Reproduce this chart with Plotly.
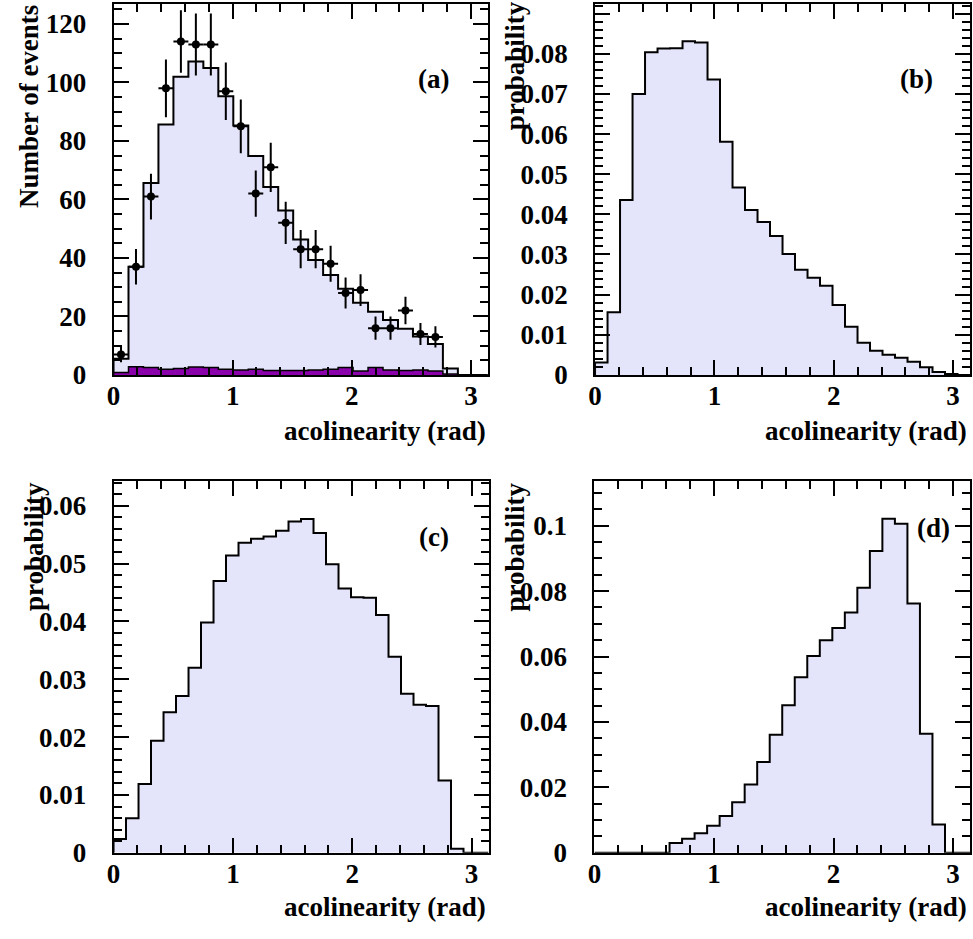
import numpy as np
import plotly.graph_objects as go

# ---------------- data ----------------
NBINS_A = 25
NBINS_BCD = 30

mc_a = [5.5, 37, 65.6, 85.6, 102, 107.2, 105, 95.3, 85.3, 74.9, 64.3, 56.2, 46.3,
        39.3, 34.2, 29.5, 24.7, 21.6, 18.8, 15.8, 13.1, 10.6, 2.2, 0, 0]
bkg_a = [0.8, 2.8, 2.5, 1.9, 2.2, 2.7, 2.5, 1.9, 1.7, 1.9, 1.5, 1.5, 1.5, 1.7, 1.9,
         2.5, 1.3, 2.5, 1.7, 1.5, 1.7, 1.3, 0.3, 0, 0]
data_a = [7, 37, 61, 98, 114, 113, 113, 97, 85, 62, 71, 52, 43, 43, 38, 28, 29, 16,
          16, 22, 14, 13]
data_err_a = [2.65, 6.08, 7.81, 9.90, 10.68, 10.63, 10.63, 9.85, 9.22, 7.87, 8.43,
              7.21, 6.56, 6.56, 6.16, 5.29, 5.39, 4.0, 4.0, 4.69, 3.74, 3.61]

prob_b = [0.0031, 0.0156, 0.0436, 0.0700, 0.0804, 0.0813, 0.0814, 0.0831, 0.0828,
          0.0736, 0.0581, 0.0467, 0.0411, 0.0381, 0.0346, 0.0301, 0.0262, 0.0242,
          0.0222, 0.0174, 0.0120, 0.0080, 0.0060, 0.0050, 0.0043, 0.0033, 0.0019,
          0.0007, 0.0002, 0]
prob_c = [0.0024, 0.0060, 0.0119, 0.0194, 0.0243, 0.0271, 0.0320, 0.0398, 0.0470,
          0.0514, 0.0536, 0.0543, 0.0547, 0.0557, 0.0573, 0.0577, 0.0553, 0.0499,
          0.0457, 0.0442, 0.0441, 0.0411, 0.0339, 0.0275, 0.0256, 0.0254, 0.0125,
          0.0007, 0, 0]
prob_d = [0, 0, 0, 0, 0, 0, 0.0030, 0.0043, 0.0060, 0.0083, 0.0113, 0.0155, 0.0209,
          0.0278, 0.0361, 0.0451, 0.0537, 0.0602, 0.0650, 0.0687, 0.0735, 0.0810,
          0.0923, 0.1021, 0.1006, 0.0762, 0.0364, 0.0087, 0, 0]

panel_labels = ["(a)", "(b)", "(c)", "(d)"]
x_title = "acolinearity (rad)"
y_titles = ["Number of events", "probability", "probability", "probability"]

# ---------------- style ----------------
W, H = 973, 939
FONT = "Liberation Serif"
FS = 27
LAV = "#e4e4fa"
PURPLE = "#8a00aa"

fig = go.Figure()


def step_trace(edges, vals, xa, ya, fill, lw=2):
    x = np.concatenate([[edges[0]], edges])
    y = [0] + list(vals) + [0]
    return go.Scatter(x=x, y=y, mode="lines", line=dict(color="black", width=lw, shape="hv"),
                      fill="tozeroy", fillcolor=fill, xaxis=xa, yaxis=ya,
                      hoverinfo="skip", showlegend=False)


edges_a = np.linspace(0, np.pi, NBINS_A + 1)
edges_bcd = np.linspace(0, np.pi, NBINS_BCD + 1)
centers_a = 0.5 * (edges_a[:-1] + edges_a[1:])

# panel (a)
fig.add_trace(step_trace(edges_a, mc_a, "x", "y", LAV))
fig.add_trace(step_trace(edges_a, bkg_a, "x", "y", PURPLE, lw=1.5))
fig.add_trace(go.Scatter(
    x=centers_a[:len(data_a)], y=data_a, mode="markers",
    marker=dict(color="black", size=8),
    error_y=dict(type="data", array=data_err_a, visible=True, thickness=2, width=0, color="black"),
    error_x=dict(type="constant", value=np.pi / NBINS_A / 2, visible=True, thickness=2, width=0, color="black"),
    xaxis="x", yaxis="y", showlegend=False))
# panels (b),(c),(d)
fig.add_trace(step_trace(edges_bcd, prob_b, "x2", "y2", LAV))
fig.add_trace(step_trace(edges_bcd, prob_c, "x3", "y3", LAV))
fig.add_trace(step_trace(edges_bcd, prob_d, "x4", "y4", LAV))

# geometry (pixels)
panels = {
    # name: (left, right, top, bottom, ymax, ydtick, yminor)
    1: (107.3, 484.3, 4.5, 381.0, 126.7, 20, 5),
    2: (592.3, 970.0, 4.5, 381.0, 0.0923, 0.01, 0.002),
    3: (107.3, 485.0, 489.3, 866.7, 0.0642, 0.01, 0.002),
    4: (591.7, 970.0, 489.0, 866.7, 0.1136, 0.02, 0.005),
}

tickfont = dict(family=FONT, size=FS, color="black", weight="bold")
layout = dict(width=W, height=H, margin=dict(l=0, r=0, t=0, b=0), autosize=False,
              paper_bgcolor="white", plot_bgcolor="white", showlegend=False,
              font=dict(family=FONT, size=FS, color="black", weight="bold"))

for i, (l, r, t, b, ymax, dy, ymin) in panels.items():
    sx = "" if i == 1 else str(i)
    layout["xaxis" + sx] = dict(
        domain=[l / W, r / W], anchor="y" + sx, range=[0, np.pi],
        tickmode="linear", tick0=0, dtick=1, ticks="inside", ticklen=15, tickwidth=2,
        tickcolor="black", showline=True, linewidth=2, linecolor="black", mirror="ticks",
        showgrid=False, zeroline=False, tickfont=tickfont, ticklabelstandoff=-4,
        layer="above traces",
        minor=dict(dtick=0.2, tick0=0, ticks="inside", ticklen=8, tickwidth=2,
                   tickcolor="black", showgrid=False))
    layout["yaxis" + sx] = dict(
        domain=[1 - b / H, 1 - t / H], anchor="x" + sx, range=[0, ymax],
        tickmode="linear", tick0=0, dtick=dy, ticks="inside", ticklen=15, tickwidth=2,
        tickcolor="black", showline=True, linewidth=2, linecolor="black", mirror="ticks",
        showgrid=False, zeroline=False, tickfont=tickfont, ticklabelstandoff=20,
        layer="above traces",
        minor=dict(dtick=ymin, tick0=0, ticks="inside", ticklen=8, tickwidth=2,
                   tickcolor="black", showgrid=False))

fig.update_layout(**layout)

annots = []
# panel labels
label_pos = [(430, 80), (916, 80), (430, 546), (933, 537)]
for txt, (px, py) in zip(panel_labels, label_pos):
    annots.append(dict(text=txt, x=px / W, y=1 - py / H, xref="paper", yref="paper",
                       xanchor="center", yanchor="middle", showarrow=False,
                       font=dict(family=FONT, size=FS, color="black", weight="bold")))
# x titles
for (px, py) in [(484, 438), (969, 438), (484, 922), (969, 922)]:
    annots.append(dict(text=x_title, x=px / W, y=1 - py / H, xref="paper", yref="paper",
                       xanchor="right", yanchor="middle", showarrow=False,
                       font=dict(family=FONT, size=FS, color="black", weight="bold")))
# y titles
ypos = [(22, 108), (512, 67), (27, 555), (512, 556)]
for txt, (px, py) in zip(y_titles, ypos):
    annots.append(dict(text=txt, x=px / W, y=1 - py / H, xref="paper", yref="paper",
                       xanchor="center", yanchor="middle", textangle=-90, showarrow=False,
                       font=dict(family=FONT, size=FS, color="black", weight="bold")))
fig.update_layout(annotations=annots)

fig.write_html("out.html", config={"displayModeBar": False},
               post_script="document.body.style.margin='0px';")
